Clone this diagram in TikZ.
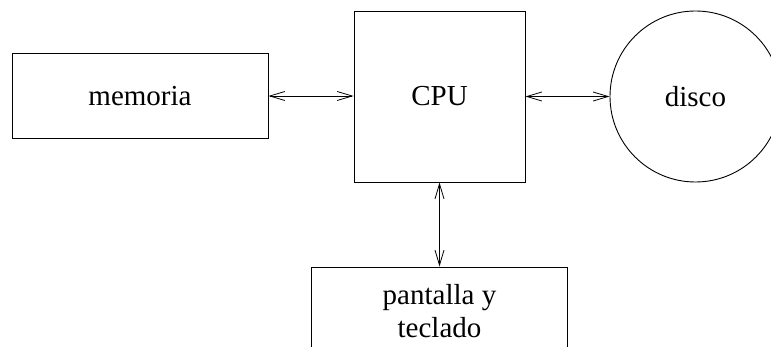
\documentclass[tikz,border=0pt]{standalone}
\usepackage{fontspec}
\setmainfont{Liberation Serif}
\usetikzlibrary{arrows.meta}
\begin{document}
\begin{tikzpicture}[x=1pt,y=-1pt,
  unit/.style={draw, line width=0.9pt, inner sep=0pt, font=\fontsize{29}{33}\selectfont, align=center},
  link/.style={line width=0.8pt, {Straight Barb[length=15pt,width=9pt]}-{Straight Barb[length=15pt,width=9pt]}}]
  \useasboundingbox (0,0) rectangle (771,347);
  \clip (0,0) rectangle (771,347);
  \node[unit, minimum width=256pt, minimum height=85pt] (mem) at (140,96) {memoria};
  \node[unit, minimum width=171pt, minimum height=171pt] (cpu) at (439.5,96.5) {CPU};
  \node[unit, circle, minimum size=171pt] (disk) at (695.5,96.5) {disco};
  \node[unit, minimum width=256pt, minimum height=88pt] (io) at (439.5,311) {pantalla y\\teclado};
  \draw[link] (mem.east) -- (mem.east -| cpu.west);
  \draw[link] (cpu.east) -- (disk.west);
  \draw[link] (cpu.south) -- (io.north);
\end{tikzpicture}
\end{document}
